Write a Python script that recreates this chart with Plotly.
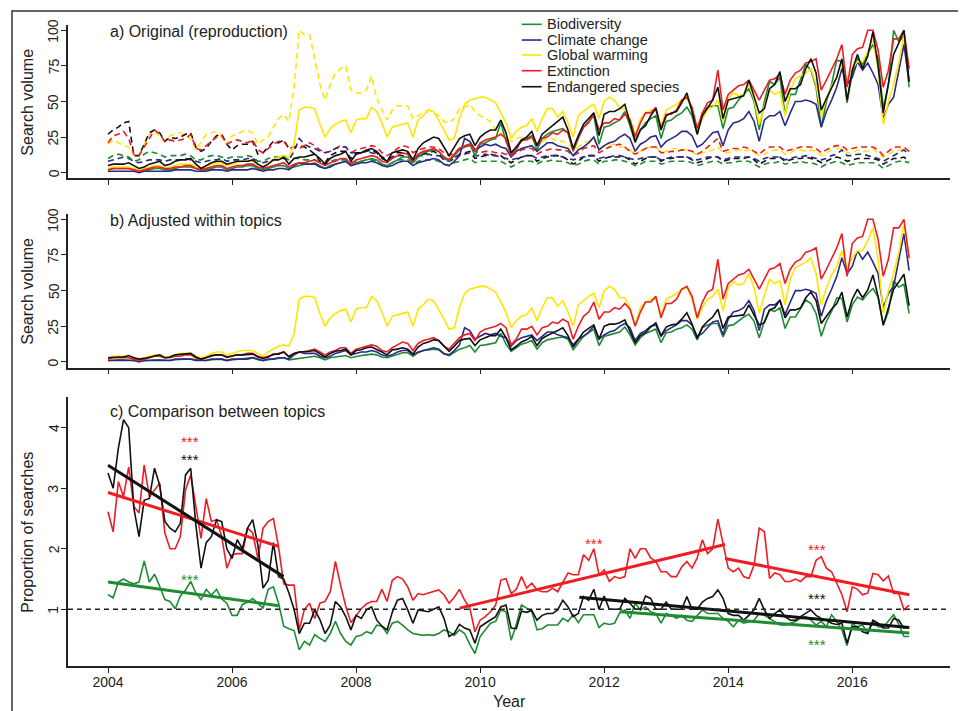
import plotly.graph_objects as go

# ---------------- time axis (monthly, Jan 2004 - Dec 2016) ----------------
START_YEAR = 2004
N_MONTHS = 156
x_month = [START_YEAR + i / 12 for i in range(N_MONTHS)]

# ---------------- panel a: original (solid) ----------------
a_biodiversity = [
    2, 3, 3, 3, 3, 2, 1, 2, 2, 3, 3, 2,
    2, 3, 4, 4, 4, 3, 2, 2, 3, 4, 4, 2,
    3, 4, 4, 5, 5, 3, 2, 3, 4, 5, 5, 3,
    4, 5, 6, 6, 7, 5, 3, 5, 6, 7, 8, 5,
    7, 8, 9, 10, 9, 6, 5, 7, 9, 11, 11, 7,
    11, 14, 15, 16, 15, 10, 8, 12, 16, 18, 20, 12,
    20, 21, 23, 24, 35, 22, 13, 18, 22, 24, 26, 16,
    24, 27, 29, 30, 31, 28, 15, 24, 32, 36, 40, 20,
    32, 33, 35, 37, 43, 33, 21, 30, 35, 38, 40, 24,
    36, 37, 40, 42, 46, 40, 27, 42, 46, 47, 47, 31,
    45, 46, 51, 55, 59, 50, 30, 50, 64, 62, 67, 41,
    55, 55, 66, 76, 72, 60, 32, 50, 62, 79, 78, 49,
    70, 80, 76, 84, 90, 80, 45, 62, 100, 92, 96, 60]
a_climate = [
    1, 1, 1, 1, 1, 1, 0, 1, 1, 1, 1, 1,
    1, 2, 2, 2, 2, 1, 1, 1, 2, 2, 2, 1,
    2, 2, 2, 2, 3, 2, 1, 2, 2, 3, 3, 2,
    5, 7, 6, 6, 6, 4, 3, 4, 6, 7, 8, 5,
    6, 7, 7, 8, 7, 5, 4, 5, 7, 8, 8, 5,
    7, 8, 9, 10, 9, 6, 5, 8, 12, 24, 22, 16,
    18, 20, 19, 20, 18, 17, 11, 15, 17, 18, 19, 15,
    18, 21, 21, 19, 18, 17, 12, 16, 18, 21, 25, 16,
    19, 21, 22, 25, 27, 24, 15, 20, 22, 25, 26, 18,
    22, 24, 26, 29, 29, 26, 18, 20, 24, 28, 29, 19,
    30, 35, 36, 38, 43, 36, 22, 37, 40, 40, 43, 33,
    42, 50, 50, 51, 50, 48, 32, 43, 51, 60, 73, 62,
    67, 78, 72, 77, 70, 62, 38, 48, 53, 71, 90, 64]
a_warming = [
    3, 4, 4, 4, 4, 3, 2, 3, 4, 5, 5, 3,
    4, 5, 6, 6, 6, 4, 3, 4, 6, 7, 7, 5,
    6, 7, 8, 8, 8, 6, 4, 7, 9, 11, 12, 11,
    20, 44, 46, 46, 45, 34, 25, 31, 34, 36, 37, 28,
    37, 38, 38, 46, 43, 35, 25, 32, 33, 34, 35, 25,
    37, 40, 44, 43, 37, 30, 23, 24, 38, 48, 51, 52,
    53, 53, 51, 49, 42, 35, 24, 29, 32, 33, 38, 29,
    38, 45, 45, 39, 43, 35, 25, 40, 43, 46, 48, 38,
    50, 53, 51, 45, 45, 38, 26, 38, 42, 44, 44, 33,
    44, 46, 48, 51, 52, 44, 30, 38, 44, 46, 51, 36,
    52, 56, 54, 55, 62, 52, 34, 47, 58, 55, 57, 40,
    58, 66, 68, 70, 73, 62, 40, 52, 61, 67, 78, 65,
    73, 78, 78, 85, 94, 72, 34, 50, 62, 77, 97, 72]
a_extinction = [
    2, 3, 3, 3, 3, 2, 1, 2, 3, 4, 4, 3,
    3, 4, 4, 5, 5, 3, 2, 3, 4, 5, 5, 3,
    4, 5, 5, 6, 6, 4, 3, 4, 5, 6, 7, 4,
    6, 7, 7, 8, 9, 7, 5, 7, 8, 10, 10, 6,
    9, 10, 11, 12, 11, 8, 7, 10, 12, 14, 13, 8,
    13, 15, 16, 17, 15, 11, 9, 13, 17, 19, 20, 15,
    21, 23, 24, 25, 27, 24, 12, 16, 23, 23, 25, 19,
    24, 25, 28, 27, 30, 28, 16, 25, 32, 35, 42, 30,
    35, 35, 38, 37, 41, 37, 25, 35, 42, 42, 46, 31,
    41, 41, 44, 51, 53, 46, 31, 42, 49, 51, 72, 44,
    55, 58, 61, 62, 65, 58, 51, 58, 65, 66, 69, 55,
    65, 70, 72, 77, 78, 80, 58, 65, 72, 80, 90, 60,
    83, 87, 88, 100, 100, 86, 60, 72, 94, 94, 100, 73]
a_endangered = [
    5, 6, 6, 6, 7, 5, 3, 4, 6, 7, 8, 5,
    6, 8, 9, 9, 10, 6, 3, 5, 7, 8, 8, 6,
    7, 8, 8, 8, 9, 6, 4, 6, 9, 9, 11, 6,
    10, 11, 11, 12, 13, 10, 6, 10, 12, 13, 15, 8,
    13, 14, 16, 17, 15, 11, 8, 14, 15, 16, 15, 9,
    17, 21, 23, 25, 24, 18, 12, 18, 24, 26, 27, 19,
    25, 28, 30, 30, 37, 28, 14, 18, 23, 25, 29, 19,
    27, 30, 33, 36, 39, 30, 17, 26, 34, 38, 42, 26,
    41, 43, 43, 45, 48, 35, 22, 30, 33, 40, 45, 30,
    40, 42, 43, 49, 56, 43, 27, 40, 46, 51, 60, 38,
    51, 52, 53, 54, 65, 53, 42, 45, 59, 62, 71, 50,
    59, 59, 62, 73, 80, 70, 44, 52, 60, 67, 80, 51,
    72, 83, 73, 82, 99, 75, 42, 62, 83, 91, 100, 64]

# ---------------- panel a: dashed series ----------------
ad_biodiversity = [
    10, 12, 13, 12, 11, 8, 9, 13, 15, 14, 13, 11,
    12, 12, 12, 13, 12, 9, 9, 11, 12, 12, 11, 10,
    11, 11, 11, 12, 11, 8, 8, 10, 11, 11, 11, 9,
    10, 10, 9, 9, 9, 7, 6, 8, 9, 9, 9, 7,
    8, 8, 9, 9, 8, 6, 5, 7, 9, 9, 9, 6,
    8, 9, 9, 9, 8, 6, 5, 7, 8, 9, 10, 7,
    8, 8, 8, 8, 8, 6, 4, 6, 8, 8, 8, 6,
    8, 8, 9, 8, 8, 7, 5, 6, 8, 9, 9, 6,
    8, 8, 9, 9, 8, 7, 5, 6, 8, 8, 8, 6,
    7, 8, 8, 8, 8, 7, 5, 6, 7, 8, 8, 6,
    7, 7, 8, 8, 8, 6, 4, 6, 7, 7, 8, 6,
    7, 7, 8, 7, 7, 6, 4, 6, 7, 8, 7, 5,
    6, 7, 7, 7, 7, 6, 3, 5, 7, 8, 8, 7]
ad_climate = [
    8, 9, 10, 11, 10, 8, 7, 8, 9, 9, 9, 8,
    9, 9, 9, 10, 9, 8, 7, 8, 9, 9, 10, 8,
    9, 9, 9, 10, 10, 8, 7, 8, 9, 10, 10, 9,
    15, 24, 20, 18, 17, 15, 14, 15, 17, 18, 18, 14,
    14, 14, 15, 14, 13, 11, 10, 11, 12, 12, 12, 10,
    12, 12, 13, 12, 12, 10, 9, 11, 12, 13, 14, 12,
    12, 13, 12, 12, 11, 10, 9, 10, 11, 12, 12, 10,
    11, 12, 12, 12, 11, 10, 9, 10, 11, 12, 12, 10,
    11, 11, 12, 12, 11, 10, 9, 10, 11, 11, 11, 9,
    10, 11, 11, 11, 11, 10, 9, 10, 11, 11, 11, 9,
    10, 11, 11, 11, 11, 10, 8, 10, 11, 11, 11, 9,
    10, 11, 11, 12, 11, 10, 9, 10, 12, 13, 16, 12,
    12, 13, 13, 12, 11, 10, 8, 10, 12, 14, 16, 13]
ad_warming = [
    20, 23, 21, 19, 18, 12, 13, 20, 27, 30, 25, 22,
    26, 27, 28, 26, 24, 16, 22, 27, 28, 29, 25, 20,
    26, 27, 29, 30, 28, 20, 23, 25, 32, 38, 41, 36,
    60, 100, 97, 97, 80, 62, 51, 62, 70, 73, 75, 58,
    56, 56, 58, 68, 52, 45, 37, 44, 47, 47, 47, 38,
    40, 42, 44, 42, 40, 36, 35, 38, 45, 46, 48, 43,
    40, 38, 36, 30, 28, 25, 22, 24, 25, 24, 25, 20,
    22, 24, 24, 22, 22, 20, 16, 18, 21, 22, 23, 18,
    18, 20, 20, 18, 18, 16, 13, 15, 17, 18, 18, 14,
    15, 17, 17, 16, 16, 15, 12, 14, 15, 16, 18, 14,
    14, 15, 16, 15, 16, 14, 12, 13, 15, 16, 16, 13,
    14, 16, 16, 15, 16, 15, 12, 14, 16, 17, 17, 14,
    14, 16, 15, 15, 17, 14, 11, 13, 15, 16, 17, 15]
ad_extinction = [
    21, 26, 27, 29, 24, 13, 12, 18, 25, 30, 27, 22,
    23, 22, 23, 24, 27, 17, 16, 19, 22, 25, 26, 20,
    22, 23, 22, 21, 23, 16, 14, 17, 20, 22, 22, 17,
    18, 17, 19, 21, 19, 16, 14, 15, 17, 19, 18, 14,
    16, 17, 18, 19, 18, 14, 12, 14, 17, 19, 18, 14,
    16, 17, 18, 18, 17, 14, 12, 14, 17, 18, 19, 15,
    14, 15, 15, 14, 14, 13, 12, 14, 16, 17, 17, 13,
    15, 16, 17, 16, 16, 15, 12, 14, 17, 18, 19, 14,
    16, 18, 19, 20, 18, 15, 13, 15, 17, 18, 18, 14,
    14, 15, 15, 16, 16, 15, 13, 15, 18, 21, 24, 15,
    16, 17, 17, 18, 17, 15, 13, 16, 18, 18, 18, 15,
    16, 17, 18, 18, 18, 17, 14, 16, 18, 19, 19, 16,
    17, 18, 18, 18, 18, 16, 12, 15, 18, 18, 18, 15]
ad_endangered = [
    27, 30, 32, 35, 36, 12, 12, 20, 28, 30, 28, 22,
    25, 24, 25, 27, 28, 18, 15, 17, 22, 26, 27, 20,
    16, 19, 20, 20, 22, 13, 14, 18, 22, 21, 23, 17,
    18, 19, 18, 16, 13, 8, 7, 12, 14, 15, 15, 10,
    14, 14, 15, 16, 14, 10, 8, 11, 14, 14, 14, 9,
    12, 13, 14, 15, 13, 9, 8, 10, 13, 14, 15, 10,
    11, 12, 13, 12, 12, 9, 7, 9, 11, 12, 12, 8,
    10, 11, 12, 12, 11, 9, 6, 8, 11, 12, 12, 8,
    10, 11, 11, 11, 11, 9, 6, 8, 10, 11, 11, 8,
    10, 10, 11, 11, 11, 9, 7, 8, 10, 11, 11, 8,
    9, 10, 10, 10, 11, 9, 6, 8, 10, 10, 11, 8,
    9, 10, 10, 11, 10, 9, 7, 8, 10, 11, 10, 8,
    9, 10, 10, 10, 10, 9, 6, 8, 10, 10, 11, 8]

# ---------------- panel b: adjusted within topics ----------------
b_biodiversity = [
    1, 1.5, 1.5, 1.5, 1.5, 1, 0.5, 1, 1, 1.5, 1.5, 1,
    1, 1.5, 2, 2, 2, 1.5, 1, 1, 1.5, 2, 2, 1,
    1.5, 2, 2, 3, 3, 1.5, 1, 1.5, 2, 3, 3, 1.5,
    2, 3, 3.5, 3.5, 4, 3, 1.5, 3, 3.5, 4, 4.5, 3,
    4, 4.5, 5, 5.5, 5, 3.5, 3, 4, 5, 6.5, 6.5, 4,
    6.5, 8, 8.5, 9, 8.5, 5.5, 4.5, 7, 9, 10, 11.5, 7,
    11.5, 12, 13, 13.5, 20, 12.5, 7.5, 10, 12.5, 13.5, 15, 9,
    13.5, 15.5, 16.5, 17, 17.5, 16, 8.5, 13.5, 18, 20.5, 23, 11.5,
    18, 19, 20, 21, 24.5, 19, 12, 17, 20, 21.5, 23, 13.5,
    20.5, 21, 23, 24, 26, 23, 15.5, 24, 26, 27, 27, 17.5,
    25.5, 26, 29, 31.5, 33.5, 28.5, 17, 28.5, 36.5, 35.5, 38, 23.5,
    31.5, 31.5, 37.5, 43.5, 41, 34, 18, 28.5, 35.5, 45, 44.5, 28,
    40, 45.5, 43.5, 48, 51.5, 45.5, 25.5, 35.5, 57, 52.5, 54.5, 34]
b_climate = a_climate
b_warming = a_warming
b_extinction = a_extinction
b_endangered = [
    3, 3.5, 3.5, 3.5, 4.5, 3, 2, 2.5, 3.5, 4.5, 5, 3,
    3.5, 5, 5.5, 5.5, 6, 3.5, 2, 3, 4.5, 5, 5, 3.5,
    4.5, 5, 5, 5, 5.5, 3.5, 2.5, 3.5, 5.5, 5.5, 7, 3.5,
    6, 7, 7, 7.5, 8, 6, 3.5, 6, 7.5, 8, 9, 5,
    8, 8.5, 10, 10.5, 9, 7, 5, 8.5, 9, 10, 9, 5.5,
    10.5, 13, 14, 15.5, 15, 11, 7.5, 11, 15, 16, 16.5, 11.5,
    15.5, 17, 18.5, 18.5, 23, 17, 8.5, 11, 14, 15.5, 18, 11.5,
    16.5, 18.5, 20, 22, 24, 18.5, 10.5, 16, 21, 23.5, 26, 16,
    25, 26.5, 26.5, 27.5, 29.5, 21.5, 13.5, 18.5, 20.5, 24.5, 27.5, 18.5,
    24.5, 26, 26.5, 30, 34.5, 26.5, 16.5, 24.5, 28.5, 31.5, 37, 23.5,
    31.5, 32, 32.5, 33, 40, 32.5, 26, 27.5, 36.5, 38, 43.5, 31,
    36.5, 36.5, 38, 45, 49, 43, 27, 32, 37, 41, 49, 31.5,
    44, 51, 45, 50.5, 61, 46, 26, 38, 51, 56, 61.5, 39.5]

# ---------------- panel c: proportion of searches ----------------
c_biodiversity = [
    1.24, 1.19, 1.45, 1.5, 1.45, 1.42, 1.45, 1.8, 1.45, 1.58, 1.38, 1.16,
    1.13, 1.01, 1.22, 1.32, 1.46, 1.27, 1.16, 1.33, 1.23, 1.33, 1.17, 1.1,
    0.9, 0.9, 1.08, 1.12, 1.18, 1.1, 1.02, 1.33, 1.37, 1.1, 0.72, 0.68,
    0.65, 0.33, 0.47, 0.41, 0.58, 0.52, 0.47, 0.6, 0.8, 0.6, 0.47, 0.41,
    0.55, 0.57, 0.63, 0.6, 0.74, 0.72, 0.6, 0.77, 0.8, 0.74, 0.66, 0.6,
    0.58, 0.57, 0.58, 0.57, 0.6, 0.66, 0.63, 0.57, 0.66, 0.6, 0.42, 0.27,
    0.55, 0.66, 0.77, 0.8, 0.99, 0.96, 0.49, 0.75, 1.07, 1.02, 0.96, 0.66,
    0.68, 0.74, 0.74, 0.74, 0.85, 0.8, 0.91, 0.78, 0.91, 0.91, 0.91, 0.7,
    0.77, 0.75, 0.77, 0.94, 0.99, 0.85, 1.1, 0.99, 1.04, 0.96, 0.93, 0.77,
    0.93, 0.9, 0.85, 0.9, 0.82, 0.8, 0.9, 0.99, 0.93, 0.93, 0.93, 0.85,
    0.8, 0.71, 0.82, 0.77, 0.8, 0.82, 0.93, 0.9, 0.85, 0.8, 0.74, 0.74,
    0.77, 0.8, 0.85, 0.88, 0.82, 0.74, 0.8, 0.71, 0.91, 0.8, 0.66, 0.4,
    0.76, 0.71, 0.74, 0.6, 0.8, 0.71, 0.7, 0.8, 0.91, 0.75, 0.55, 0.55]
c_extinction = [
    2.61, 2.28, 3.11, 2.86, 3.35, 2.7, 2.59, 3.38, 2.86, 2.97, 3.08, 2.26,
    2.0, 2.0, 2.2, 2.97, 3.22, 2.7, 2.17, 2.83, 2.45, 2.48, 2.2, 1.68,
    1.9, 1.92, 1.92, 2.34, 2.26, 1.84, 2.34, 2.45, 2.5, 2.03, 1.42, 1.4,
    1.4, 0.66, 1.0, 1.1, 0.85, 1.1, 1.13, 1.29, 1.79, 1.4, 1.05, 0.78,
    0.9, 1.01, 1.09, 1.13, 1.13, 1.33, 1.13, 1.48, 1.54, 1.5, 1.37, 1.15,
    1.26, 1.24, 1.27, 1.3, 1.32, 1.24, 1.1, 1.2, 1.33, 1.15, 1.02, 0.63,
    0.82, 0.88, 0.96, 1.07, 1.48, 1.51, 1.26, 1.33, 1.54, 1.35, 1.43, 1.32,
    1.29, 1.29, 1.35, 1.29, 1.45, 1.6, 1.57, 1.57, 1.9, 1.81, 2.0, 1.57,
    1.65, 1.46, 1.54, 1.51, 1.54, 2.0, 1.84, 2.0, 2.0, 1.85, 1.79, 1.62,
    1.62, 1.54, 1.54, 1.7, 1.79, 1.68, 1.85, 2.15, 1.92, 2.0, 2.49, 2.09,
    1.68, 1.62, 1.68, 1.54, 1.51, 1.73, 2.34, 2.28, 1.51, 1.6, 1.57, 1.46,
    1.46, 1.5, 1.46, 1.54, 1.54, 1.81, 1.87, 1.68, 1.62, 1.43, 1.24, 0.96,
    1.37, 1.33, 1.24, 1.27, 1.59, 1.57, 1.47, 1.55, 1.26, 1.26, 0.99, 1.07]
c_endangered = [
    3.25, 3.0, 3.66, 4.13, 4.0, 2.67, 2.2, 2.8, 2.83, 3.33, 3.05, 2.45,
    2.34, 2.28, 2.42, 3.22, 3.33, 2.39, 1.68, 2.1, 2.2, 2.48, 2.45, 2.0,
    1.84, 2.15, 2.0, 2.34, 2.48, 2.06, 1.35, 1.48, 2.1, 1.54, 1.5, 1.27,
    1.0, 0.6, 0.77, 0.77, 0.99, 0.83, 0.6, 0.74, 1.13, 1.04, 0.88, 0.66,
    0.9, 0.85, 0.99, 1.04, 0.82, 0.72, 0.66, 0.95, 1.15, 1.18, 0.99, 0.77,
    0.99, 0.97, 0.96, 1.0, 1.04, 0.85, 0.55, 0.6, 0.75, 0.69, 0.66, 0.44,
    0.71, 0.77, 0.82, 0.88, 1.04, 1.07, 0.69, 0.68, 0.97, 0.95, 0.98, 0.82,
    0.9, 0.93, 0.93, 0.99, 1.15, 1.04, 0.88, 0.93, 1.21, 1.15, 1.33, 1.0,
    1.22, 1.0, 1.0, 1.0, 1.18, 1.1, 1.0, 1.0, 1.22, 1.18, 1.0, 1.0,
    1.12, 1.0, 1.0, 1.0, 1.21, 1.0, 1.0, 1.12, 1.18, 1.21, 1.32, 1.18,
    0.93, 0.9, 0.9, 0.82, 0.9, 0.99, 1.18, 0.99, 0.85, 0.93, 0.99, 0.88,
    0.82, 0.82, 0.88, 0.93, 0.99, 0.9, 0.85, 0.82, 0.77, 0.75, 0.77, 0.44,
    0.71, 0.71, 0.63, 0.6, 0.82, 0.77, 0.69, 0.69, 0.85, 0.82, 0.69, 0.71]

# fitted trend segments: (start year, end year, start value, end value)
trend_extinction = [(2004.0, 2006.75, 2.93, 2.04),
                    (2009.67, 2013.95, 1.02, 2.07),
                    (2013.95, 2016.92, 1.84, 1.24)]
trend_endangered = [(2004.0, 2006.83, 3.38, 1.54),
                    (2011.6, 2016.92, 1.20, 0.70)]
trend_biodiversity = [(2004.0, 2006.75, 1.45, 1.06),
                      (2012.25, 2016.92, 0.96, 0.61)]

# significance markers: (year, value, series)
sig_marks = [(2005.33, 3.84, "extinction"), (2005.33, 3.54, "endangered"),
             (2005.33, 1.55, "biodiversity"), (2011.84, 2.15, "extinction"),
             (2015.43, 2.05, "extinction"), (2015.43, 1.25, "endangered"),
             (2015.43, 0.49, "biodiversity")]

legend_names = ["Biodiversity", "Climate change", "Global warming",
                "Extinction", "Endangered species"]
year_ticks = [2004, 2006, 2008, 2010, 2012, 2014, 2016]
volume_ticks = [0, 25, 50, 75, 100]
prop_ticks = [1, 2, 3, 4]

# ---------------- styling ----------------
COL = {"biodiversity": "#1F8B34", "climate": "#2B2A88", "warming": "#FFE600",
       "extinction": "#EE1D24", "endangered": "#111111"}
legend_keys = ["biodiversity", "climate", "warming", "extinction", "endangered"]
FONT = "Liberation Sans, Arial, sans-serif"
AXC = "#222222"
LW = 1.6

fig = go.Figure()

def add_line(x, y, color, xa, ya, dash=None, width=LW):
    fig.add_trace(go.Scatter(x=x, y=y, mode="lines", xaxis=xa, yaxis=ya,
                             line=dict(color=color, width=width, dash=dash),
                             showlegend=False, hoverinfo="skip"))

# panel a (top): dashed first, then solid
dashed_a = {"biodiversity": ad_biodiversity, "climate": ad_climate,
            "warming": ad_warming, "extinction": ad_extinction,
            "endangered": ad_endangered}
solid_a = {"biodiversity": a_biodiversity, "climate": a_climate,
           "warming": a_warming, "extinction": a_extinction,
           "endangered": a_endangered}
for k in ["warming", "endangered", "extinction", "climate", "biodiversity"]:
    add_line(x_month, dashed_a[k], COL[k], "x3", "y3", dash="6px,4px")
for k in legend_keys:
    add_line(x_month, solid_a[k], COL[k], "x3", "y3")

# panel b
solid_b = {"biodiversity": b_biodiversity, "climate": b_climate,
           "warming": b_warming, "extinction": b_extinction,
           "endangered": b_endangered}
for k in legend_keys:
    add_line(x_month, solid_b[k], COL[k], "x2", "y2")

# panel c
series_c = {"biodiversity": c_biodiversity, "extinction": c_extinction,
            "endangered": c_endangered}
for k in ["biodiversity", "extinction", "endangered"]:
    add_line(x_month, series_c[k], COL[k], "x", "y")
for k, segs in [("biodiversity", trend_biodiversity),
                ("extinction", trend_extinction),
                ("endangered", trend_endangered)]:
    for (x0, x1, y0, y1) in segs:
        add_line([x0, x1], [y0, y1], COL[k], "x", "y", width=3)

XR = [2003.355, 2017.576]
common_x = dict(range=XR, showline=True, linecolor=AXC, linewidth=1.5,
                ticks="outside", ticklen=5, tickcolor=AXC, tickwidth=1.2,
                tickvals=year_ticks, showgrid=False, zeroline=False,
                ticklabelstandoff=-3, automargin=False,
                tickfont=dict(size=14, color=AXC, family=FONT))
common_y = dict(showline=True, linecolor=AXC, linewidth=1.5, ticks="outside",
                ticklen=5, tickcolor=AXC, tickwidth=1.2, showgrid=False,
                zeroline=False, showticklabels=False, automargin=False)

# page body has an 8px margin: figure is sized/offset to compensate
fig.update_layout(
    width=958, height=703, autosize=False,
    margin=dict(l=60, r=16, t=12, b=45),
    paper_bgcolor="white", plot_bgcolor="white",
    font=dict(family=FONT, color=AXC),
    showlegend=False,
    xaxis=dict(anchor="y", ticktext=[str(v) for v in year_ticks], **common_x),
    yaxis=dict(anchor="x", domain=[0.0, 0.4159], range=[0.0636, 4.501],
               tickvals=prop_ticks, **common_y),
    xaxis2=dict(anchor="y2", showticklabels=False,
                **{k: v for k, v in common_x.items()}),
    yaxis2=dict(anchor="x2", domain=[0.4618, 0.7003], range=[-4, 104],
                tickvals=volume_ticks, **common_y),
    xaxis3=dict(anchor="y3", showticklabels=False,
                **{k: v for k, v in common_x.items()}),
    yaxis3=dict(anchor="x3", domain=[0.7548, 0.9929], range=[-4, 104],
                tickvals=volume_ticks, **common_y),
)

shapes = []
# reference line at 1 in panel c
shapes.append(dict(type="line", xref="paper", yref="y", x0=0, x1=1, y0=1, y1=1,
                   line=dict(color=AXC, width=1.5, dash="5px,4px")))
# outer frame
shapes.append(dict(type="rect", xref="paper", yref="paper",
                   x0=-0.0635, x1=1.0113, y0=-0.12, y1=1.0139,
                   line=dict(color="#333333", width=1.5)))
# manual legend
leg_y = [0.9933, 0.9690, 0.9458, 0.9215, 0.8967]
for k, yy in zip(legend_keys, leg_y):
    shapes.append(dict(type="line", xref="paper", yref="paper",
                       x0=0.5144, x1=0.5370, y0=yy, y1=yy,
                       line=dict(color=COL[k], width=LW)))
fig.update_layout(shapes=shapes)

ann = []
for name, yy in zip(legend_names, leg_y):
    ann.append(dict(xref="paper", yref="paper", x=0.5405, y=yy, text=name,
                    showarrow=False, xanchor="left", yanchor="middle",
                    font=dict(size=14.5, color=AXC, family=FONT)))
# rotated y tick labels (R style)
for yref, ticks in [("y3", volume_ticks), ("y2", volume_ticks), ("y", prop_ticks)]:
    for v in ticks:
        ann.append(dict(xref="paper", yref=yref, x=-0.0165, y=v, text=str(v),
                        showarrow=False, textangle=-90, xanchor="center",
                        yanchor="middle",
                        font=dict(size=14, color=AXC, family=FONT)))
# panel labels
ann.append(dict(xref="x3", yref="y3", x=2004, y=99, text="a) Original (reproduction)",
                showarrow=False, xanchor="left", yanchor="middle",
                font=dict(size=16, color=AXC, family=FONT)))
ann.append(dict(xref="x2", yref="y2", x=2004, y=99.5, text="b) Adjusted within topics",
                showarrow=False, xanchor="left", yanchor="middle",
                font=dict(size=16, color=AXC, family=FONT)))
ann.append(dict(xref="x", yref="y", x=2004, y=4.27, text="c) Comparison between topics",
                showarrow=False, xanchor="left", yanchor="middle",
                font=dict(size=16, color=AXC, family=FONT)))
# axis titles
for txt, yy in [("Search volume", 0.8735), ("Search volume", 0.5808),
                ("Proportion of searches", 0.2079)]:
    ann.append(dict(xref="paper", yref="paper", x=-0.0454, y=yy, text=txt,
                    showarrow=False, textangle=-90, xanchor="center",
                    yanchor="middle", font=dict(size=16, color=AXC, family=FONT)))
ann.append(dict(xref="paper", yref="paper", x=0.5, y=-0.0542, text="Year",
                showarrow=False, xanchor="center", yanchor="middle",
                font=dict(size=16, color=AXC, family=FONT)))
# significance stars
for (xx, yy, k) in sig_marks:
    ann.append(dict(xref="x", yref="y", x=xx, y=yy, text="***", showarrow=False,
                    xanchor="center", yanchor="middle", yshift=-4,
                    font=dict(size=15, color=COL[k], family=FONT)))
fig.update_layout(annotations=ann)

fig.write_html("out.html")
